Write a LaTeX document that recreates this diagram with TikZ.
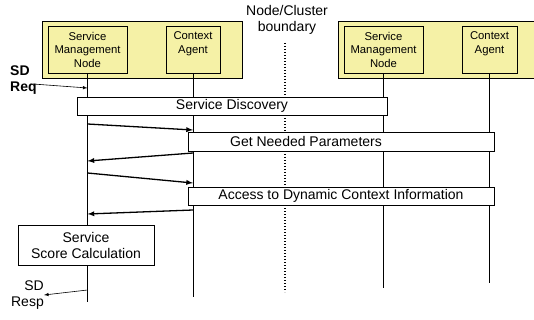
\documentclass[tikz,border=0pt]{standalone}
\usepackage{fontspec}
\setmainfont{Liberation Sans}
\usepackage{tikz}
\usetikzlibrary{positioning}
\usetikzlibrary{arrows}
\definecolor{nodeyellow}{RGB}{245,241,166}
\tikzstyle{cluster}=[draw,fill=nodeyellow,line width=0.8pt,inner sep=0pt]
\tikzstyle{entity}=[draw,fill=nodeyellow,line width=0.8pt,inner sep=0pt,align=center,
	font=\fontsize{11.3}{13.5}\selectfont,minimum height=47pt]
\tikzstyle{phase}=[draw,fill=white,line width=0.8pt,inner sep=0pt,
	font=\fontsize{14}{16}\selectfont]
\tikzstyle{lifeline}=[line width=0.8pt]
\tikzstyle{msg}=[-latex,line width=1.3pt,shorten >=0pt]
\tikzstyle{extmsg}=[-latex,line width=0.6pt]

\begin{document}
\begin{tikzpicture}[x=1pt,y=-1pt]
		\useasboundingbox (0,0) rectangle (534,320);
		\clip (0,0) rectangle (534,320);
		% clusters
		\node[cluster,minimum width=200pt,minimum height=57pt] (clA) at (142,49.5) {};
		\node[cluster,minimum width=200pt,minimum height=57pt] (clB) at (438,49.5) {};
		\node[entity,minimum width=79pt] (smnA) at (87.5,49.5) {Service\\Management\\Node};
		\node[entity,minimum width=54pt] (caA) at (193,49.5) {Context\\Agent\\\mbox{}};
		\node[entity,minimum width=79pt] (smnB) at (383.5,49.5) {Service\\Management\\Node};
		\node[entity,minimum width=55pt] (caB) at (489.5,49.5) {Context\\Agent\\\mbox{}};
		\node[align=center,font=\fontsize{14}{16}\selectfont] (bnd) at (287,20) {Node/Cluster\\boundary};
		% lifelines
		\foreach \n/\y in {smnA/302,caA/297,smnB/288,caB/283} {
			\coordinate (\n end) at (\n.south |- 0,\y);
			\draw[lifeline] (\n.south)--(\n end);}
		\coordinate (bndtop) at (285,43);
		\coordinate (bndbot) at (285,292);
		\draw[line width=1.3pt,dash pattern=on 1.2pt off 1.8pt] (bndtop)--(bndbot);
		% phases
		\node[phase,minimum width=310pt,minimum height=18pt] (sd) at (232,106) {Service Discovery};
		\node[phase,minimum width=306pt,minimum height=19pt,
			label={[font=\fontsize{14}{16}\selectfont,xshift=-35pt]center:Get Needed Parameters}] (gnp) at (341,141.5) {};
		\node[phase,minimum width=306pt,minimum height=18pt] (acc) at (341,196) {Access to Dynamic Context Information};
		\node[phase,minimum width=136pt,minimum height=40pt,align=center] (ssc) at (86,245) {Service\\Score Calculation};
		% messages
		\foreach \i/\a/\b in {1/124/130,3/173/183} {
			\coordinate (s\i) at (smnA.south |- 0,\a);
			\coordinate (c\i) at (caA.south |- 0,\b);
			\draw[msg] (s\i)--(c\i);}
		\foreach \i/\a/\b in {2/153/161,4/210/214} {
			\coordinate (c\i) at (caA.south |- 0,\a);
			\coordinate (s\i) at (smnA.south |- 0,\b);
			\draw[msg] (c\i)--(s\i);}
		% request and response
		\node[align=left,anchor=north west,inner sep=0pt,font=\fontsize{14}{16}\selectfont\bfseries] (req) at (10,66) {SD\\Req};
		\coordinate (reqstart) at (33,84);
		\coordinate (reqend) at (smnA.south |- 0,88);
		\draw[extmsg] (reqstart)--(reqend);
		\node[align=right,anchor=north east,inner sep=0pt,font=\fontsize{14}{16}\selectfont] (resp) at (44,281) {SD\\Resp};
		\coordinate (respstart) at (smnA.south |- 0,290);
		\coordinate (respend) at (44,295);
		\draw[extmsg] (respstart)--(respend);
	\end{tikzpicture}
\end{document}
